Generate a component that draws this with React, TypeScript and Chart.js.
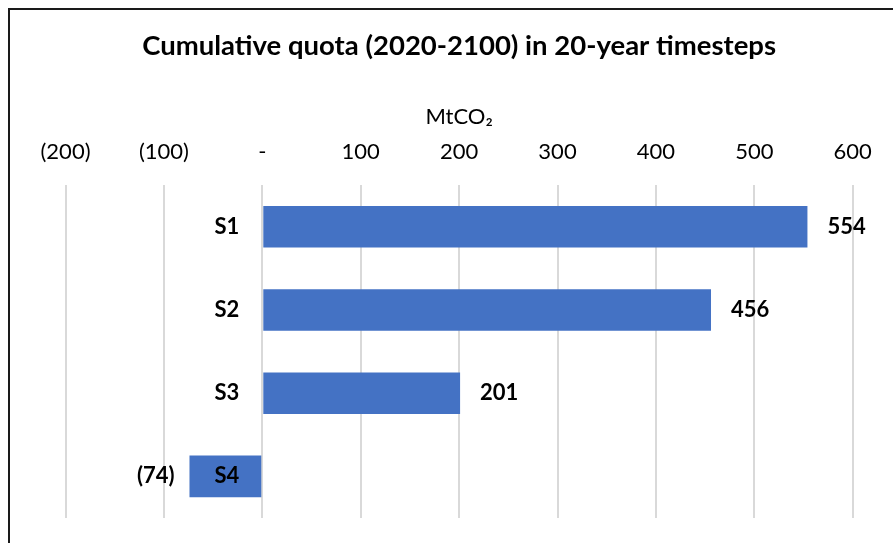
import React, { useEffect, useRef } from "react";
import { Chart, registerables } from "chart.js";

Chart.register(...registerables);

// Scenarios and their cumulative quota, MtCO2
const scenarios = ["S1", "S2", "S3", "S4"];
const quota = [554, 456, 201, -74];

// Value axis range
const axisMin = -200;
const axisMax = 600;
const axisStep = 100;

const chartTitle = "Cumulative quota (2020-2100) in 20-year timesteps";
const unitTitle = "MtCO\u2082";

const FONT = "Lato, 'Noto Sans', sans-serif";
const BAR_BLUE = "#4472C4";
const GRID_GREY = "#d9d9d9";

// Accounting-style number: negatives in brackets, zero as a dash
const fmt = (v: number) => (v === 0 ? "-" : v < 0 ? `(${Math.abs(v)})` : `${v}`);

// Scenario names sit just left of the zero line; values sit beyond each bar end
const barAnnotations = {
  id: "barAnnotations",
  afterDatasetsDraw(chart: Chart) {
    const { ctx } = chart;
    const xScale = chart.scales.x;
    const yScale = chart.scales.y;
    const meta = chart.getDatasetMeta(0);
    const values = chart.data.datasets[0].data as number[];
    const labels = chart.data.labels as string[];
    const zeroX = xScale.getPixelForValue(0);
    ctx.save();
    ctx.font = `bold 22px ${FONT}`;
    ctx.fillStyle = "#000";
    ctx.textBaseline = "middle";
    labels.forEach((name, i) => {
      ctx.textAlign = "right";
      ctx.fillText(name, zeroX - 23, yScale.getPixelForTick(i));
    });
    meta.data.forEach((bar: any, i: number) => {
      const v = values[i];
      if (v >= 0) {
        ctx.textAlign = "left";
        ctx.fillText(fmt(v), bar.x + 20, bar.y);
      } else {
        ctx.textAlign = "right";
        ctx.fillText(fmt(v), bar.x - 15, bar.y);
      }
    });
    ctx.restore();
  },
};

function QuotaChart() {
  const canvasRef = useRef<HTMLCanvasElement | null>(null);

  useEffect(() => {
    if (!canvasRef.current) return;
    const chart = new Chart(canvasRef.current, {
      type: "bar",
      data: {
        labels: scenarios,
        datasets: [
          {
            data: quota,
            backgroundColor: BAR_BLUE,
            borderWidth: 0,
            barPercentage: 0.5,
            categoryPercentage: 1,
          },
        ],
      },
      options: {
        indexAxis: "y",
        animation: false,
        responsive: false,
        maintainAspectRatio: false,
        layout: { padding: { left: 65.5, right: 40.3, top: 0, bottom: 25 } },
        plugins: {
          legend: { display: false },
          tooltip: { enabled: false },
          title: {
            display: true,
            text: chartTitle,
            color: "#000",
            font: { family: FONT, size: 27.5, weight: "bold" },
            padding: { top: 30, bottom: 41 },
          },
        },
        scales: {
          x: {
            type: "linear",
            position: "top",
            min: axisMin,
            max: axisMax,
            ticks: {
              stepSize: axisStep,
              color: "#000",
              font: { family: FONT, size: 22 },
              padding: 20,
              callback: (v: any) => fmt(Number(v)),
            },
            grid: { color: GRID_GREY, lineWidth: 2, drawTicks: false },
            border: { display: false },
            title: {
              display: true,
              text: unitTitle,
              color: "#000",
              font: { family: FONT, size: 22 },
              padding: { top: 0, bottom: -11.6 },
            },
          },
          y: {
            type: "category",
            display: false,
          },
        },
      },
      plugins: [barAnnotations],
    });
    return () => chart.destroy();
  }, []);

  return <canvas ref={canvasRef} width={893} height={543} style={{ display: "block" }} />;
}

export default function App() {
  return (
    <div
      style={{
        position: "fixed",
        left: 0,
        top: 0,
        width: 893,
        height: 543,
        overflow: "hidden",
        background: "#fff",
      }}
    >
      <div
        style={{
          position: "absolute",
          left: 8,
          top: 8,
          width: 1000,
          height: 1000,
          border: "2px solid #1a1a1a",
          boxSizing: "border-box",
        }}
      />
      <div style={{ position: "absolute", left: 0, top: 0 }}>
        <QuotaChart />
      </div>
    </div>
  );
}
